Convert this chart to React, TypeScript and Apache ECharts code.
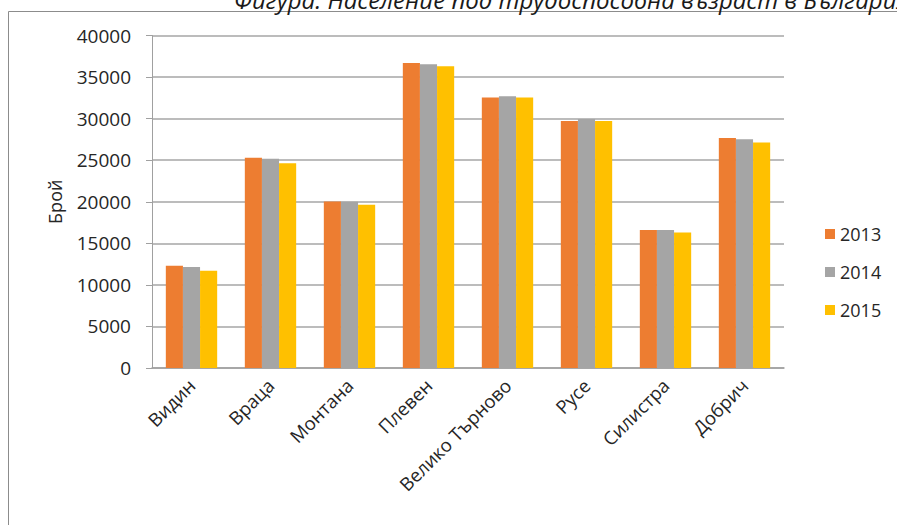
import React, { useEffect, useRef } from "react";
import * as echarts from "echarts";

const categories = ["Видин", "Враца", "Монтана", "Плевен", "Велико Търново", "Русе", "Силистра", "Добрич"];
const years = ["2013", "2014", "2015"];
const values2013 = [12300, 25300, 20030, 36700, 32530, 29720, 16590, 27680];
const values2014 = [12140, 25160, 19990, 36540, 32690, 29960, 16590, 27520];
const values2015 = [11690, 24640, 19630, 36300, 32530, 29720, 16300, 27120];
const colors = ["#ED7D31", "#A5A5A5", "#FFC000"];
const titleText = "Фигура: Население под трудоспособна възраст в България";
const yAxisName = "Брой";

const FONT = "'Open Sans', 'Noto Sans', sans-serif";

export default function App() {
  const ref = useRef<HTMLDivElement>(null);
  useEffect(() => {
    if (!ref.current) return;
    const chart = echarts.init(ref.current, null, { renderer: "svg" });
    const seriesData = [values2013, values2014, values2015];
    chart.setOption({
      animation: false,
      backgroundColor: "#ffffff",
      textStyle: { fontFamily: FONT },
      graphic: [
        {
          type: "line",
          shape: { x1: 8.5, y1: 11.5, x2: 897, y2: 11.5 },
          style: { stroke: "#8c8c8c", lineWidth: 1 },
          silent: true,
        },
        {
          type: "line",
          shape: { x1: 8.5, y1: 11.5, x2: 8.5, y2: 525 },
          style: { stroke: "#8c8c8c", lineWidth: 1 },
          silent: true,
        },
        {
          type: "text",
          x: 234,
          y: -1,
          style: {
            text: titleText,
            fontFamily: FONT,
            fontStyle: "italic",
            fontSize: 24,
            fill: "#1a1a1a",
            align: "left",
            verticalAlign: "middle",
          },
          silent: true,
        },
      ],
      legend: {
        orient: "vertical",
        left: 820,
        top: 220,
        itemWidth: 10,
        itemHeight: 10,
        itemGap: 20,
        icon: "rect",
        textStyle: { fontSize: 18, color: "#262626", fontFamily: FONT },
        data: years,
      },
      grid: { left: 152, top: 35.5, right: 113, bottom: 157, containLabel: false },
      xAxis: {
        type: "category",
        data: categories,
        axisLine: { lineStyle: { color: "#a0a0a0", width: 1.5 } },
        axisTick: { show: false },
        axisLabel: {
          rotate: 45,
          fontSize: 18.5,
          color: "#262626",
          fontFamily: FONT,
          margin: 14,
          interval: 0,
        },
      },
      yAxis: {
        type: "value",
        min: 0,
        max: 40000,
        interval: 5000,
        name: yAxisName,
        nameLocation: "middle",
        nameGap: 88,
        nameRotate: 90,
        nameTextStyle: { fontSize: 18, color: "#262626", fontFamily: FONT },
        axisLine: { show: true, lineStyle: { color: "#a0a0a0", width: 1 } },
        axisTick: { show: true, inside: false, length: 6, lineStyle: { color: "#a0a0a0" } },
        axisLabel: {
          fontSize: 19,
          color: "#262626",
          fontFamily: FONT,
          margin: 21,
          formatter: (v: number) => String(v),
        },
        splitLine: { show: true, lineStyle: { color: "#a6a6a6", width: 1.5 } },
      },
      series: years.map((y, i) => ({
        name: y,
        type: "bar",
        data: seriesData[i],
        itemStyle: { color: colors[i] },
        barGap: "0%",
        barCategoryGap: "35%",
      })),
    });
    return () => chart.dispose();
  }, []);
  return (
    <div
      ref={ref}
      style={{ position: "fixed", left: 0, top: 0, width: 897, height: 525 }}
    />
  );
}
